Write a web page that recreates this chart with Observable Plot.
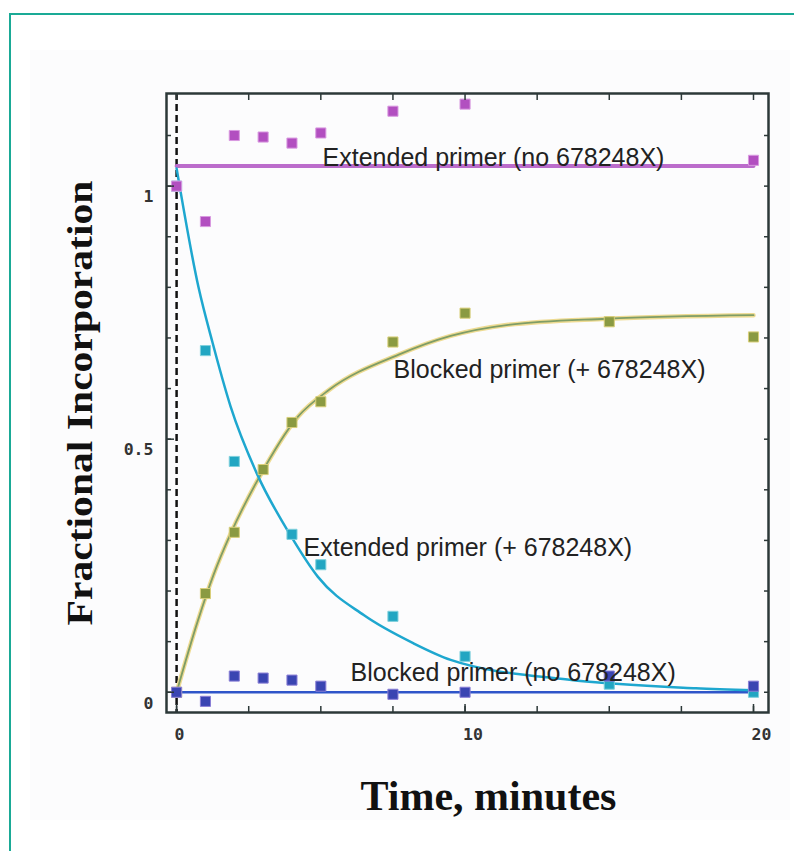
<!DOCTYPE html>
<html>
<head>
<meta charset="utf-8">
<script src="https://cdn.jsdelivr.net/npm/d3@7"></script>
<script src="https://cdn.jsdelivr.net/npm/@observablehq/plot@0.6"></script>
<style>
  html, body { margin: 0; padding: 0; background: #ffffff; }
  #wrap { position: relative; width: 794px; height: 851px; overflow: hidden; }
  #border { position: absolute; left: 9px; top: 13px; right: -10px; bottom: -10px;
            border-top: 2px solid #1aaa96; border-left: 2px solid #1aaa96; }
  #panel { position: absolute; left: 30px; top: 50px; width: 760px; height: 770px; background: #fcfcfd; }
  #chart { position: absolute; left: 0; top: 0; }
</style>
</head>
<body>
<div id="wrap"><div id="panel"></div><div id="border"></div><div id="chart"></div></div>
<script>
// ---- Data ----
const times = [0, 1, 2, 3, 4, 5, 7.5, 10, 15, 20];

// Extended primer (no 678248X) — magenta squares
const extNoValues = [1.00, 0.93, 1.10, 1.097, 1.085, 1.105, 1.148, 1.162, null, 1.051];
// Extended primer (+ 678248X) — cyan squares
const extPlusValues = [1.00, 0.675, 0.456, null, 0.312, 0.252, 0.150, 0.071, 0.016, 0.0];
// Blocked primer (+ 678248X) — olive squares
const blockedPlusValues = [0.0, 0.195, 0.316, 0.44, 0.533, 0.574, 0.692, 0.749, 0.732, 0.702];
// Blocked primer (no 678248X) — blue squares
const blockedNoValues = [0.0, -0.018, 0.032, 0.028, 0.024, 0.012, -0.004, 0.0, 0.032, 0.012];

// Fitted curves
const extNoFitX = [0, 20];
const extNoFitY = [1.04, 1.04];
const blockedNoFitX = [0, 20];
const blockedNoFitY = [0.0, 0.0];
const extPlusFitX = [0, 0.76, 1.25, 1.87, 2.8, 3.95, 4.9, 6.5, 8.2, 9.5, 13.55, 18, 20];
const extPlusFitY = [1.035, 0.80, 0.69, 0.565, 0.43, 0.31, 0.228, 0.152, 0.097, 0.064, 0.025, 0.008, 0.004];
const blockedPlusFitX = [0, 0.73, 1.28, 1.87, 2.8, 4.2, 5.3, 7.7, 9.5, 11.5, 14.9, 20];
const blockedPlusFitY = [0, 0.14, 0.232, 0.313, 0.418, 0.544, 0.598, 0.667, 0.704, 0.726, 0.738, 0.745];

// Series labels and their anchor points (data units)
const seriesLabels = ["Extended primer (no 678248X)", "Blocked primer (+ 678248X)",
                      "Extended primer (+ 678248X)", "Blocked primer (no 678248X)"];
const labelX = [5.06, 7.52, 4.40, 6.03];
const labelY = [1.055, 0.636, 0.286, 0.039];

// Ticks
const xTickValues = [0, 10, 20];
const xTickLabels = ["0", "10", "20"];
const xMinorTicks = [0, 2.5, 5, 7.5, 10, 12.5, 15, 17.5, 20];
const yTickValues = [0, 0.5, 1];
const yTickLabels = ["0", "0.5", "1"];
const yMinorTicks = [0, 0.1, 0.2, 0.3, 0.4, 0.5, 0.6, 0.7, 0.8, 0.9, 1.0, 1.1];

const xTitle = "Time, minutes";
const yTitle = "Fractional Incorporation";

// ---- Build tables ----
const pts = (vals) => times.map((t, i) => ({x: t, y: vals[i]})).filter(d => d.y != null);
const curve = (xs, ys) => xs.map((x, i) => ({x, y: ys[i]}));
const labels = seriesLabels.map((s, i) => ({text: s, x: labelX[i], y: labelY[i]}));

const C = {
  magenta: "#b24fc0", magentaLine: "#bb6ccb",
  cyan: "#22a6c2", cyanLine: "#1ea7cf",
  olive: "#8a9a42", oliveLine: "#7f9d66", oliveHalo: "#eedb92",
  blue: "#3a45b2", blueLine: "#2f55c9",
  ink: "#222222", frame: "#2c3838"
};

const monoFont = "DejaVu Sans Mono";
const chart = Plot.plot({
  width: 794, height: 851,
  marginLeft: 166, marginRight: 26, marginTop: 93, marginBottom: 139,
  style: {background: "transparent", overflow: "visible"},
  x: {domain: [-0.35, 20.52]},
  y: {domain: [-0.04, 1.183]},
  marks: [
    Plot.ruleX([0], {stroke: "#111", strokeWidth: 2.5, strokeDasharray: "7,4"}),
    // fit lines
    Plot.line(curve(blockedNoFitX, blockedNoFitY), {x: "x", y: "y", stroke: C.blueLine, strokeWidth: 2.5}),
    Plot.line(curve(extNoFitX, extNoFitY), {x: "x", y: "y", stroke: C.magentaLine, strokeWidth: 4}),
    Plot.line(curve(blockedPlusFitX, blockedPlusFitY), {x: "x", y: "y", stroke: C.oliveHalo, strokeWidth: 4.5, curve: "monotone-x"}),
    Plot.line(curve(blockedPlusFitX, blockedPlusFitY), {x: "x", y: "y", stroke: C.oliveLine, strokeWidth: 1.8, curve: "monotone-x"}),
    Plot.line(curve(extPlusFitX, extPlusFitY), {x: "x", y: "y", stroke: C.cyanLine, strokeWidth: 2.5, curve: "monotone-x"}),
    // points
    Plot.dot(pts(blockedPlusValues), {x: "x", y: "y", symbol: "square", r: 5.7, fill: C.olive, stroke: "#d9cf7a", strokeWidth: 1}),
    Plot.dot(pts(extPlusValues), {x: "x", y: "y", symbol: "square", r: 5.7, fill: C.cyan, stroke: "#7fd0dc", strokeWidth: 1}),
    Plot.dot(pts(blockedNoValues), {x: "x", y: "y", symbol: "square", r: 5.7, fill: C.blue, stroke: "#8a7fd6", strokeWidth: 1}),
    Plot.dot(pts(extNoValues), {x: "x", y: "y", symbol: "square", r: 5.7, fill: C.magenta, stroke: "#d99ae0", strokeWidth: 1}),
    // series labels
    Plot.text(labels, {x: "x", y: "y", text: "text", textAnchor: "start", lineAnchor: "middle",
      fontFamily: "Liberation Sans", fontSize: 25, fill: C.ink}),
    // frame
    Plot.frame({stroke: C.frame, strokeWidth: 2.5}),
    // inward ticks
    Plot.axisX({anchor: "bottom", ticks: xMinorTicks, tickSize: -6, tickFormat: () => "", label: null, stroke: C.frame, strokeWidth: 1.5}),
    Plot.axisX({anchor: "top", ticks: xMinorTicks, tickSize: -6, tickFormat: () => "", label: null, stroke: C.frame, strokeWidth: 1.5}),
    Plot.axisY({anchor: "left", ticks: yMinorTicks, tickSize: -5, tickFormat: () => "", label: null, stroke: C.frame, strokeWidth: 1.5}),
    Plot.axisY({anchor: "right", ticks: yMinorTicks, tickSize: -5, tickFormat: () => "", label: null, stroke: C.frame, strokeWidth: 1.5}),
    Plot.axisY({anchor: "left", ticks: yTickValues, tickSize: -8, tickFormat: () => "", label: null, stroke: C.frame, strokeWidth: 1.5}),
    Plot.axisX({anchor: "bottom", ticks: xTickValues, tickSize: -8, tickFormat: () => "", label: null, stroke: C.frame, strokeWidth: 1.5}),
    // tick labels
    Plot.axisY({anchor: "left", ticks: yTickValues, tickSize: 0, tickPadding: 13, dy: 11,
      tickFormat: (d, i) => yTickLabels[i], label: null, fontFamily: monoFont, fontSize: 16.5, fontWeight: "bold", fill: "#333"}),
    Plot.axisX({anchor: "bottom", ticks: xTickValues, tickSize: 0, tickPadding: 16, dx: -2, textAnchor: "start",
      tickFormat: (d, i) => xTickLabels[i], label: null, fontFamily: monoFont, fontSize: 16.5, fontWeight: "bold", fill: "#333"}),
    // axis titles
    Plot.text([yTitle], {frameAnchor: "left", textAnchor: "middle", rotate: -90, dx: -86, lineAnchor: "middle",
      fontFamily: "Liberation Serif", fontWeight: "bold", fontSize: 36, fill: "#111"}),
    Plot.text([xTitle], {frameAnchor: "bottom", dx: 21, dy: 97, lineAnchor: "bottom",
      fontFamily: "Liberation Serif", fontWeight: "bold", fontSize: 42, fill: "#111"})
  ]
});
document.getElementById("chart").appendChild(chart);
// stretch the y title along its baseline to the reference length
for (const el of chart.querySelectorAll("text")) {
  if (el.textContent === yTitle) {
    el.setAttribute("textLength", "445");
    el.setAttribute("lengthAdjust", "spacingAndGlyphs");
  }
}
</script>
</body>
</html>
